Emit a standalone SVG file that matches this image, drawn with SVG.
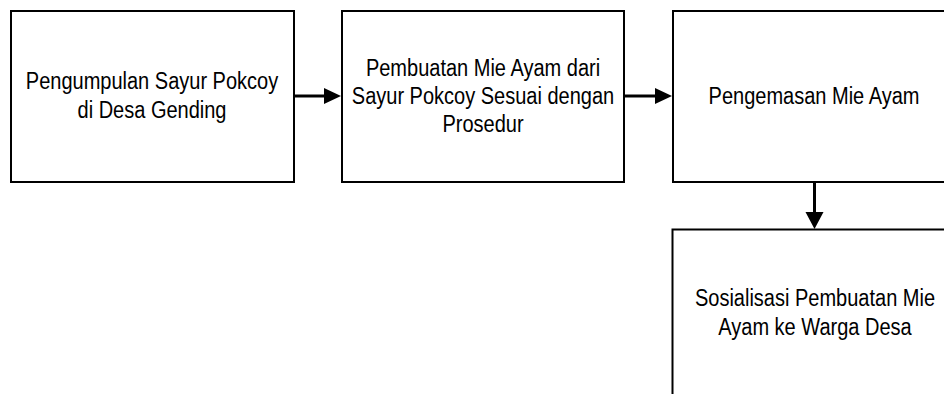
<svg xmlns="http://www.w3.org/2000/svg" width="944" height="394" viewBox="0 0 944 394">
<style>
.box{fill:#fff;stroke:#000;stroke-width:2}
.conn{stroke:#000;stroke-width:3;fill:none}
.head{fill:#000}
text{font-family:"Liberation Sans",Arial,sans-serif;font-size:23px;fill:#000;text-anchor:middle}
</style>
<rect width="944" height="394" fill="#fff"/>
<g id="node1">
<rect class="box" x="11" y="11" width="283" height="171"/>
<g transform="translate(152,0) scale(0.87,1)">
<text x="0" y="89.5">Pengumpulan Sayur Pokcoy</text>
<text x="0" y="118">di Desa Gending</text>
</g>
</g>
<g id="node2">
<rect class="box" x="342" y="11" width="282" height="171"/>
<g transform="translate(483,0) scale(0.87,1)">
<text x="0" y="76">Pembuatan Mie Ayam dari</text>
<text x="0" y="104">Sayur Pokcoy Sesuai dengan</text>
<text x="0" y="132">Prosedur</text>
</g>
</g>
<g id="node3">
<rect class="box" x="673" y="11" width="283" height="171"/>
<g transform="translate(814,0) scale(0.87,1)">
<text x="0" y="104.5">Pengemasan Mie Ayam</text>
</g>
</g>
<g id="node4">
<rect class="box" x="672.5" y="229.5" width="284" height="171"/>
<g transform="translate(815,0) scale(0.87,1)">
<text x="0" y="306.5">Sosialisasi Pembuatan Mie</text>
<text x="0" y="335">Ayam ke Warga Desa</text>
</g>
</g>
<g id="connectors">
<line class="conn" x1="294" y1="96" x2="326" y2="96"/>
<polygon class="head" points="341,96 324,88 324,104"/>
<line class="conn" x1="624" y1="96" x2="656" y2="96"/>
<polygon class="head" points="672,96 655,88 655,104"/>
<line class="conn" x1="814.5" y1="182" x2="814.5" y2="214"/>
<polygon class="head" points="814.5,229 805.5,212 823.5,212"/>
</g>
</svg>
